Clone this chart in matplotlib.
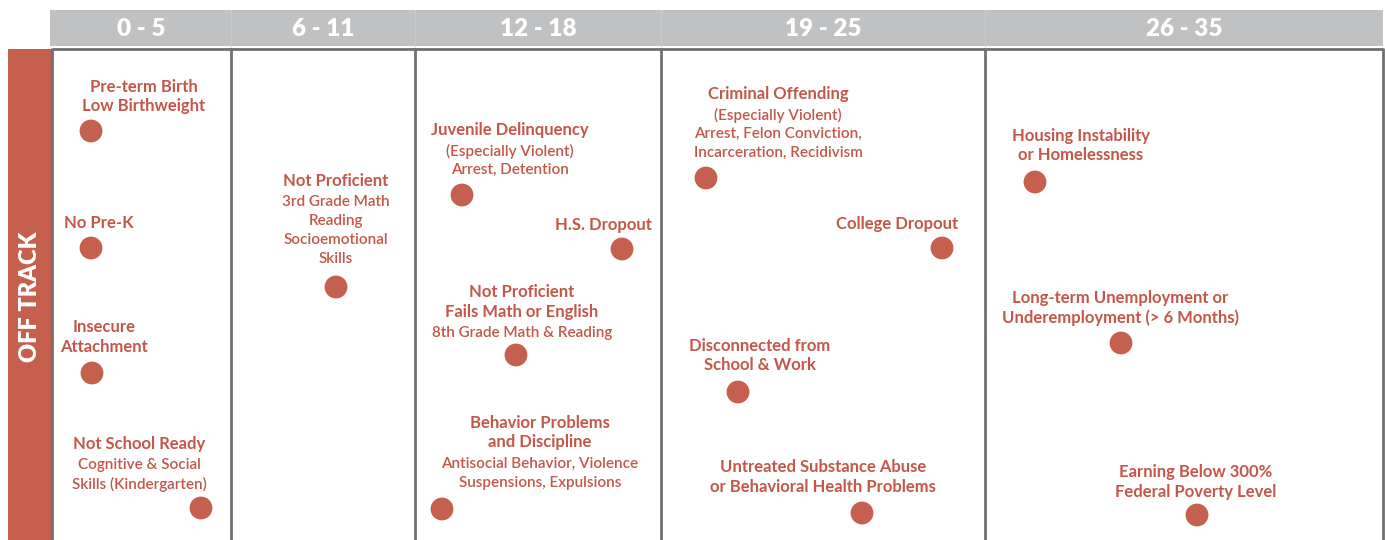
import matplotlib
matplotlib.use("Agg")
import matplotlib.pyplot as plt
from matplotlib.patches import Rectangle

# ---------------- data ----------------
age_groups = ["0 - 5", "6 - 11", "12 - 18", "19 - 25", "26 - 35"]
column_edges = [52, 231, 415, 661, 985, 1383]
band_label = "OFF TRACK"

outcome_titles = [
    "Pre-term Birth\nLow Birthweight",
    "No Pre-K",
    "Insecure\nAttachment",
    "Not School Ready",
    "Not Proficient",
    "Juvenile Delinquency",
    "H.S. Dropout",
    "Not Proficient\nFails Math or English",
    "Behavior Problems\nand Discipline",
    "Criminal Offending",
    "College Dropout",
    "Disconnected from\nSchool & Work",
    "Untreated Substance Abuse\nor Behavioral Health Problems",
    "Housing Instability\nor Homelessness",
    "Long-term Unemployment or\nUnderemployment (> 6 Months)",
    "Earning Below 300%\nFederal Poverty Level",
]
outcome_details = [
    "",
    "",
    "",
    "Cognitive & Social\nSkills (Kindergarten)",
    "3rd Grade Math\nReading\nSocioemotional\nSkills",
    "(Especially Violent)\nArrest, Detention",
    "",
    "8th Grade Math & Reading",
    "Antisocial Behavior, Violence\nSuspensions, Expulsions",
    "(Especially Violent)\nArrest, Felon Conviction,\nIncarceration, Recidivism",
    "",
    "",
    "",
    "",
    "",
    "",
]
dot_x = [91, 91, 92, 201, 336, 462, 622, 516, 442, 706, 942, 738, 862, 1035, 1121, 1197]
dot_y = [131, 248, 373, 508, 287, 195, 249, 355, 509, 178, 248, 392, 513, 182, 343, 515]
label_x = [144, 99, 104, 139, 336, 510, 603, 522, 540, 778, 897, 760, 823, 1081, 1120, 1196]
label_y = [87, 223, 327, 444, 181, 130, 225, 292, 423, 94, 224, 346, 467, 136, 298, 472]

# ---------------- style ----------------
RED = "#c5604f"
TEXT_RED = "#c4564a"
GRAY = "#c0c1c3"
BORDER = "#707070"
FONT = ["Lato", "DejaVu Sans"]

fig = plt.figure(figsize=(13.85, 5.4), dpi=100)
ax = fig.add_axes([0, 0, 1, 1])
ax.set_xlim(0, 1385)
ax.set_ylim(540, 0)
ax.axis("off")

# header bar
ax.add_patch(Rectangle((column_edges[0] - 2, 10), column_edges[-1] + 2 - column_edges[0], 36,
                       facecolor=GRAY, edgecolor="none", zorder=1))
for e in column_edges[1:-1]:
    ax.plot([e, e], [10, 46], color="#c9cacc", lw=0.8, zorder=1.5)
for i, g in enumerate(age_groups):
    cx = (column_edges[i] + column_edges[i + 1]) / 2
    ax.text(cx, 29, g, ha="center", va="center", color="white", fontsize=17.5,
            fontweight="heavy", family=FONT, zorder=2)

# left band
ax.add_patch(Rectangle((8, 49), 44, 500, facecolor=RED, edgecolor="none", zorder=1))
ax.text(30, 297, band_label, rotation=90, ha="center", va="center", color="white",
        fontsize=17, fontweight="heavy", family=FONT, zorder=2)

# column borders
ax.plot([column_edges[0], column_edges[-1]], [49, 49], color=BORDER, lw=2, zorder=2,
        solid_capstyle="butt")
for e in column_edges:
    ax.plot([e, e], [48, 545], color=BORDER, lw=2, zorder=2, solid_capstyle="butt")

# dots
ax.scatter(dot_x, dot_y, s=270, color=RED, edgecolors="none", zorder=3)

# labels
TITLE_STEP = 19.5
DETAIL_FIRST = 21
DETAIL_STEP = 19
for t, d, lx, ly in zip(outcome_titles, outcome_details, label_x, label_y):
    y = ly
    tl = t.split("\n")
    for k, line in enumerate(tl):
        ax.text(lx, y, line, ha="center", va="center", color=TEXT_RED, fontsize=12,
                fontweight="bold", family=FONT, zorder=4)
        if k < len(tl) - 1:
            y += TITLE_STEP
    if d:
        y += DETAIL_FIRST
        for k, line in enumerate(d.split("\n")):
            ax.text(lx, y, line, ha="center", va="center", color=TEXT_RED, fontsize=11,
                    fontweight="semibold", family=FONT, zorder=4)
            y += DETAIL_STEP

fig.savefig("out.png", dpi=100, facecolor="white")
